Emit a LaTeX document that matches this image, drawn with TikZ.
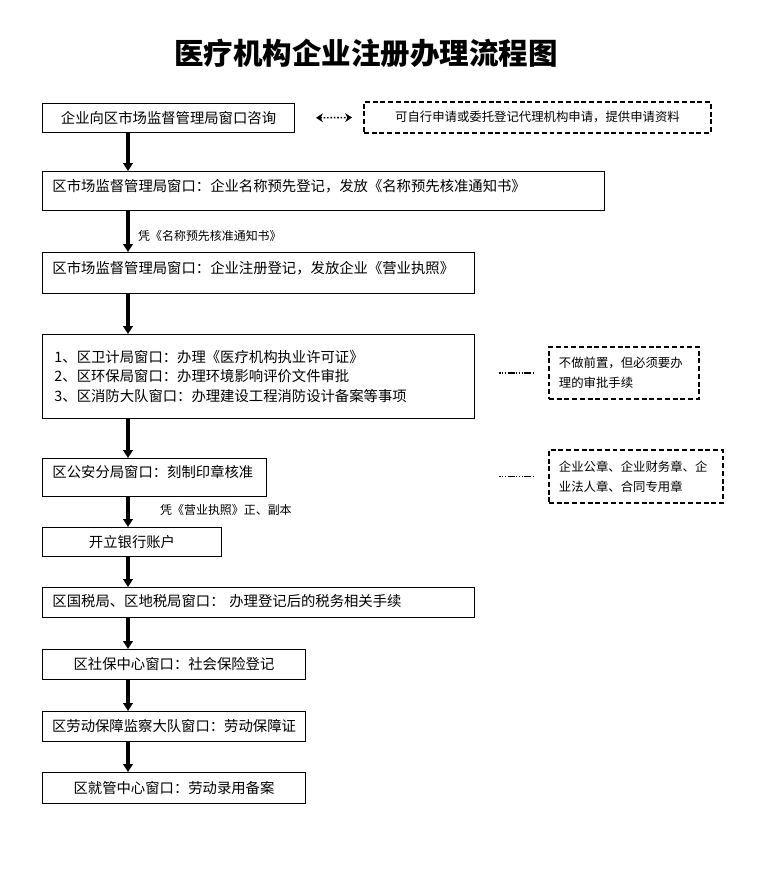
\documentclass[tikz,border=0pt]{standalone}
\usepackage{fontspec}
\setmainfont{Noto Sans CJK SC}
\usetikzlibrary{positioning, arrows.meta}
\tikzstyle{process} = [rectangle,
anchor=north west,
inner sep=0pt,
text centered,
draw=black,
line width=0.7pt,
font=\fontsize{10.2}{14.2}\selectfont]
\tikzstyle{stage} = [process,
align=left,
inner xsep=0.25cm,
text depth=0.3cm]
\tikzstyle{remark} = [rectangle,
anchor=north west,
inner xsep=0.25cm,
inner ysep=0pt,
align=left,
draw=black,
line width=1.3pt,
dash pattern=on 3.5pt off 2pt,
font=\fontsize{8.8}{14.2}\selectfont]
\tikzstyle{flow} = [-{Triangle[width=0.24cm,length=0.2cm]}, line width=0.11cm]
\tikzstyle{pair} = [{Stealth[width=0.22cm,length=0.17cm]}-{Stealth[width=0.22cm,length=0.17cm]},
line width=1pt, dash pattern=on 1.2pt off 1.2pt, shorten <=0.525cm, shorten >=0.275cm]
\tikzstyle{link} = [line width=1.3pt,
dash pattern=on 1pt off 1pt on 1pt off 1pt on 1pt off 1pt on 5pt off 1pt,
shorten <=0.6cm, shorten >=0.325cm]
\tikzstyle{tag} = [font=\fontsize{8.5}{10}\selectfont, inner sep=0pt]

\begin{document}
\begin{tikzpicture}[x=0.025cm, y=-0.025cm]
\useasboundingbox (0,0) rectangle (777,875);
\node (title) at (366,53) {\fontsize{21}{24}\selectfont\bfseries 医疗机构企业注册办理流程图};

\node (consult) [process, minimum width=6.3cm, minimum height=0.725cm] at (42,103) {企业向区市场监督管理局窗口咨询};
\node (agent) [remark, minimum width=8.675cm, minimum height=0.775cm, align=center] at (363,101) {可自行申请或委托登记代理机构申请，提供申请资料};
\node (namecheck) [stage, text width=13.55cm, minimum height=0.975cm] at (42,171) {区市场监督管理局窗口：企业名称预先登记，发放《名称预先核准通知书》};
\node (register) [stage, text width=10.3cm, minimum height=1.025cm] at (42,252) {区市场监督管理局窗口：企业注册登记，发放企业《营业执照》};
\node (permits) [process, align=left, text width=10.2cm, inner xsep=0.3cm, minimum height=2.1cm] at (42,334) {1、区卫计局窗口：办理《医疗机构执业许可证》\\2、区环保局窗口：办理环境影响评价文件审批\\3、区消防大队窗口：办理建设工程消防设计备案等事项\\[-0.2cm]};
\node (noteA) [remark, text width=3.25cm, minimum height=1.3cm] at (548,346) {不做前置，但必须要办\\理的审批手续};
\node (seal) [stage, text width=5.1cm, minimum height=0.95cm] at (42,458) {区公安分局窗口：刻制印章核准};
\node (noteB) [remark, text width=3.85cm, minimum height=1.325cm] at (548,449) {企业公章、企业财务章、企\\业法人章、合同专用章};
\node (bank) [process, minimum width=4.475cm, minimum height=0.725cm] at (42,527) {开立银行账户};
\node (tax) [stage, text width=10.3cm, minimum height=0.75cm, text depth=0.1cm] at (42,587) {区国税局、区地税局窗口： 办理登记后的税务相关手续};
\node (social) [process, minimum width=6.575cm, minimum height=0.75cm] at (42,649) {区社保中心窗口：社会保险登记};
\node (labour) [process, minimum width=6.575cm, minimum height=0.75cm] at (42,711) {区劳动保障监察大队窗口：劳动保障证};
\node (employ) [process, minimum width=6.575cm, minimum height=0.775cm] at (42,772) {区就管中心窗口：劳动录用备案};

\coordinate (spine) at (128,0);
\draw [flow] (consult.south -| spine) -- (namecheck.north -| spine);
\draw [flow] (namecheck.south -| spine) -- node[tag, right=0.2cm, pos=0.6] {凭《名称预先核准通知书》} (register.north -| spine);
\draw [flow] (register.south -| spine) -- (permits.north -| spine);
\draw [flow] (permits.south -| spine) -- (seal.north -| spine);
\draw [flow] (seal.south -| spine) -- node[tag, right=0.75cm, pos=0.42] {凭《营业执照》正、副本} (bank.north -| spine);
\draw [flow] (bank.south -| spine) -- (tax.north -| spine);
\draw [flow] (tax.south -| spine) -- (social.north -| spine);
\draw [flow] (social.south -| spine) -- (labour.north -| spine);
\draw [flow] (labour.south -| spine) -- (employ.north -| spine);

\draw [pair] (consult.east) -- (agent.west);
\draw [link] (permits.east |- noteA.west) -- (noteA.west);
\draw [link] (noteB.west -| permits.east) -- (noteB.west);
\end{tikzpicture}
\end{document}
